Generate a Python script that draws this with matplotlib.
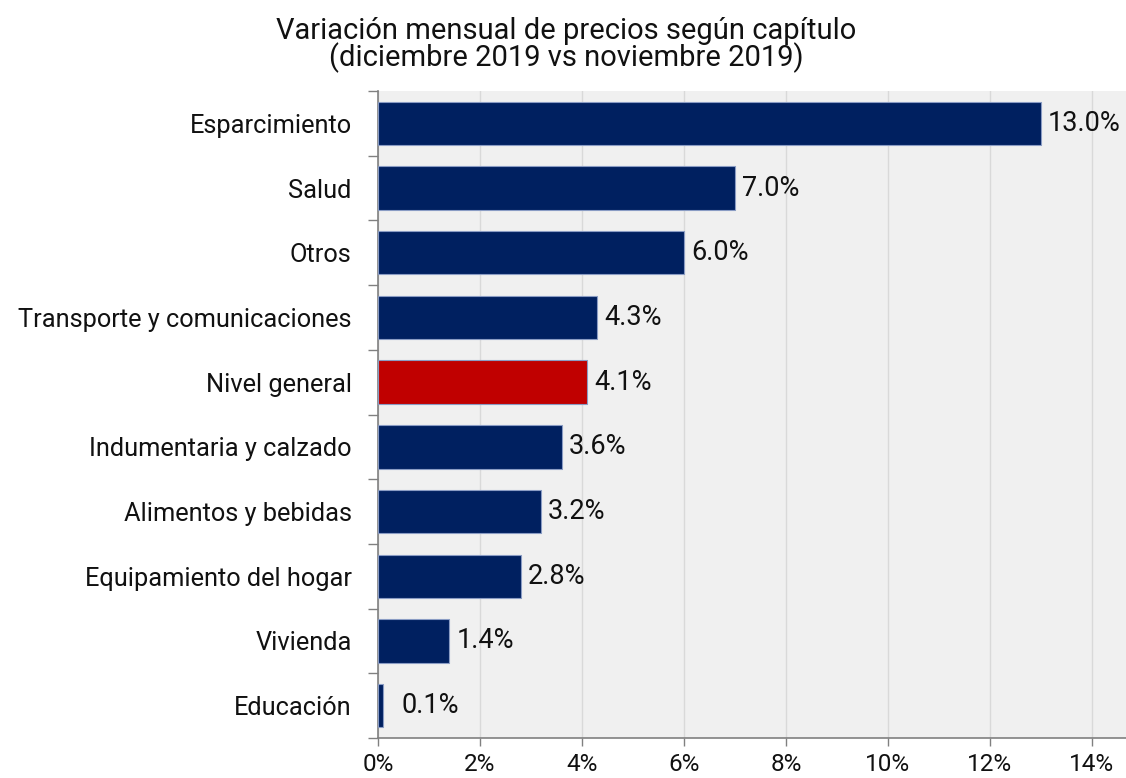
import matplotlib
matplotlib.use("Agg")
import matplotlib.pyplot as plt
from matplotlib.ticker import FixedLocator, FuncFormatter

plt.rcParams['font.family'] = ['Roboto', 'DejaVu Sans']

categories = ["Esparcimiento", "Salud", "Otros", "Transporte y comunicaciones",
              "Nivel general", "Indumentaria y calzado", "Alimentos y bebidas",
              "Equipamiento del hogar", "Vivienda", "Educación"]
values = [13.0, 7.0, 6.0, 4.3, 4.1, 3.6, 3.2, 2.8, 1.4, 0.1]
labels = ["13.0%", "7.0%", "6.0%", "4.3%", "4.1%", "3.6%", "3.2%", "2.8%", "1.4%", "0.1%"]
highlight = "Nivel general"
x_ticks = [0, 2, 4, 6, 8, 10, 12, 14]
title_lines = ["Variación mensual de precios según capítulo",
               "(diciembre 2019 vs noviembre 2019)"]

navy = "#002060"
red = "#C00000"

fig = plt.figure(figsize=(11.26, 7.78), dpi=100)
ax = fig.add_axes([378/1126, 1-738/778, 1-378/1126, (738-91)/778])
ax.set_facecolor("#F0F0F0")

ypos = list(range(len(categories)))
colors = [red if c == highlight else navy for c in categories]
ax.barh(ypos, values, height=0.67, color=colors, edgecolor="#8A9CC4", linewidth=0.8, zorder=3)

ax.set_ylim(len(categories) - 0.5, -0.5)
ax.set_xlim(0, 14.67)

for y, v, lab in zip(ypos, values, labels):
    xv = max(v, 0.32)
    ax.annotate(lab, (xv, y), xytext=(5, 0), textcoords="offset points",
                va="center", ha="left", fontsize=19.5, color="#111111", zorder=4)

ax.set_yticks(ypos)
ax.set_yticklabels(categories, fontsize=18.3, color="#111111")
ax.tick_params(axis="y", which="major", length=0, pad=19)
ax.yaxis.set_minor_locator(FixedLocator([i - 0.5 for i in range(len(categories) + 1)]))
ax.tick_params(axis="y", which="minor", length=7, width=1, color="#808080", direction="out")

ax.set_xticks(x_ticks)
ax.xaxis.set_major_formatter(FuncFormatter(lambda v, p: f"{int(v)}%"))
ax.tick_params(axis="x", which="major", length=6, width=1, color="#808080", labelsize=17.5, pad=5,
               labelcolor="#111111")

ax.grid(axis="x", color="#D9D9D9", linewidth=1, zorder=0)
ax.set_axisbelow(True)
for s in ["top", "right"]:
    ax.spines[s].set_visible(False)
for s in ["left", "bottom"]:
    ax.spines[s].set_color("#808080")
    ax.spines[s].set_linewidth(1.2)

fig.text(0.503, 1 - 39/778, title_lines[0], ha="center", va="baseline", fontsize=21, color="#111111")
fig.text(0.503, 1 - 66/778, title_lines[1], ha="center", va="baseline", fontsize=21, color="#111111")

fig.savefig("out.png", dpi=100)
